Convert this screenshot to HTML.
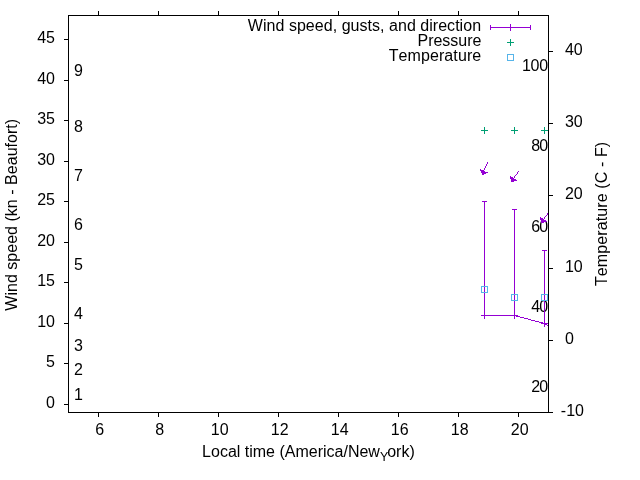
<!DOCTYPE html>
<html><head><meta charset="utf-8"><title>Wind plot</title>
<style>html,body{margin:0;padding:0;background:#fff}body{width:640px;height:480px;overflow:hidden}</style></head>
<body>
<svg width="640" height="480" viewBox="0 0 640 480" style="display:block;font-kerning:none" shape-rendering="crispEdges" font-family="Liberation Sans, Arial, sans-serif" font-size="16" fill="#000">
<rect width="640" height="480" fill="#fff"/>
<path d="M98.5 412v5M98.5 16v-5M158.5 412v5M158.5 16v-5M218.5 412v5M218.5 16v-5M278.5 412v5M278.5 16v-5M338.5 412v5M338.5 16v-5M398.5 412v5M398.5 16v-5M458.5 412v5M458.5 16v-5M518.5 412v5M518.5 16v-5M69 404.5h-5M69 363.5h-5M69 323.5h-5M69 282.5h-5M69 242.5h-5M69 201.5h-5M69 161.5h-5M69 120.5h-5M69 80.5h-5M69 39.5h-5M548 412.5h5M548 340.5h5M548 268.5h5M548 195.5h5M548 123.5h5M548 51.5h5" stroke="#000" stroke-width="1" fill="none"/>
<g text-anchor="middle">
<text x="99.7" y="434.8">6</text>
<text x="159.7" y="434.8">8</text>
<text x="219.7" y="434.8">10</text>
<text x="279.7" y="434.8">12</text>
<text x="339.7" y="434.8">14</text>
<text x="399.7" y="434.8">16</text>
<text x="459.7" y="434.8">18</text>
<text x="519.7" y="434.8">20</text>
</g>
<g text-anchor="end">
<text x="55" y="407.9">0</text>
<text x="55" y="366.9">5</text>
<text x="55" y="326.9">10</text>
<text x="55" y="285.9">15</text>
<text x="55" y="245.9">20</text>
<text x="55" y="204.9">25</text>
<text x="55" y="164.9">30</text>
<text x="55" y="123.9">35</text>
<text x="55" y="83.9">40</text>
<text x="55" y="42.9">45</text>
</g>
<text x="564.95" y="343.9">0</text>
<text x="564.95" y="271.9">10</text>
<text x="564.95" y="198.9">20</text>
<text x="564.95" y="126.9">30</text>
<text x="564.95" y="54.9">40</text>
<text x="560.8" y="415.9">-10</text>
<text x="73.9" y="399.9">1</text>
<text x="73.9" y="374.9">2</text>
<text x="73.9" y="350.9">3</text>
<text x="73.9" y="318.9">4</text>
<text x="73.9" y="269.9">5</text>
<text x="73.9" y="229.9">6</text>
<text x="73.9" y="180.9">7</text>
<text x="73.9" y="131.9">8</text>
<text x="73.9" y="75.9">9</text>
<g text-anchor="end" letter-spacing="-0.8">
<text x="547.35" y="391.9">20</text>
<text x="547.35" y="311.9">40</text>
<text x="547.35" y="231.9">60</text>
<text x="547.35" y="150.9">80</text>
<text x="547.8" y="70.9" letter-spacing="-0.3">100</text>
</g>
<text x="202.1" y="456.7">Local time (America/New<tspan font-size="12.4" dy="4.2">Y</tspan><tspan dy="-4.2" dx="-1">ork)</tspan></text>
<text transform="translate(17 214.8) rotate(-90)" text-anchor="middle" letter-spacing="0.025">Wind speed (kn - Beaufort)</text>
<text transform="translate(606.8 213.9) rotate(-90)" text-anchor="middle" letter-spacing="0.11">Temperature (C - F)</text>
<text x="481.1" y="30.8" text-anchor="end" letter-spacing="0.035">Wind speed, gusts, and direction</text>
<text x="481.5" y="45.8" text-anchor="end">Pressure</text>
<text x="481.3" y="60.8" text-anchor="end" letter-spacing="0.09">Temperature</text>
<path d="M490 27.5H531M490.5 25v5M530.5 25v5M510.5 24v7" stroke="#9400d3" fill="none"/>
<path d="M507.0 42.5h7M510.5 39.0v7" stroke="#009e73" fill="none"/>
<path d="M507.5 54.5h6v6h-6z" stroke="#56b4e9" fill="none"/>
<clipPath id="c"><rect x="69" y="16" width="480" height="397"/></clipPath>
<g clip-path="url(#c)">
<path d="M484.5 315.5L514.5 315.5L544.5 323.5L574.5 339.5M484.5 316.0V201.0M482.0 201.5h5M482.0 315.5h5M481.0 315.5h7M484.5 312.0v7M514.5 316.0V209.0M512.0 209.5h5M512.0 315.5h5M511.0 315.5h7M514.5 312.0v7M544.5 324.0V250.0M542.0 250.5h5M542.0 323.5h5M541.0 323.5h7M544.5 320.0v7" stroke="#9400d3" fill="none"/>
<path d="M487 162h1v1h-1zM487 163h1v1h-1zM486 164h1v1h-1zM486 165h1v1h-1zM485 166h1v1h-1zM485 167h1v1h-1zM484 168h1v1h-1zM480 169h1v1h-1zM484 169h1v1h-1zM480 170h4v1h-4zM481 171h4v1h-4zM481 172h7v1h-7zM482 173h4v1h-4zM482 174h2v1h-2zM518 171h1v1h-1zM517 172h1v1h-1zM517 173h1v1h-1zM516 174h1v1h-1zM515 175h1v1h-1zM514 176h1v1h-1zM514 177h1v1h-1zM510 176h1v1h-1zM510 177h3v1h-3zM510 178h4v1h-4zM511 179h5v1h-5zM511 180h6v1h-6zM511 181h3v1h-3zM548 212h1v1h-1zM547 213h1v1h-1zM547 214h1v1h-1zM546 215h1v1h-1zM545 216h1v1h-1zM544 217h1v1h-1zM544 218h1v1h-1zM540 217h1v1h-1zM540 218h3v1h-3zM540 219h4v1h-4zM541 220h5v1h-5zM541 221h6v1h-6zM541 222h3v1h-3zM548 212h1v1h-1z" fill="#9400d3"/>
</g>
<path d="M481.0 130.5h7M484.5 127.0v7M511.0 130.5h7M514.5 127.0v7M541.0 130.5h7M544.5 127.0v7" stroke="#009e73" fill="none"/>
<path d="M481.5 286.5h6v6h-6zM511.5 294.5h6v6h-6zM541.5 294.5h6v6h-6z" stroke="#56b4e9" fill="none"/>
<rect x="68.5" y="15.5" width="480.0" height="397.0" fill="none" stroke="#000"/>
</svg>
</body></html>
